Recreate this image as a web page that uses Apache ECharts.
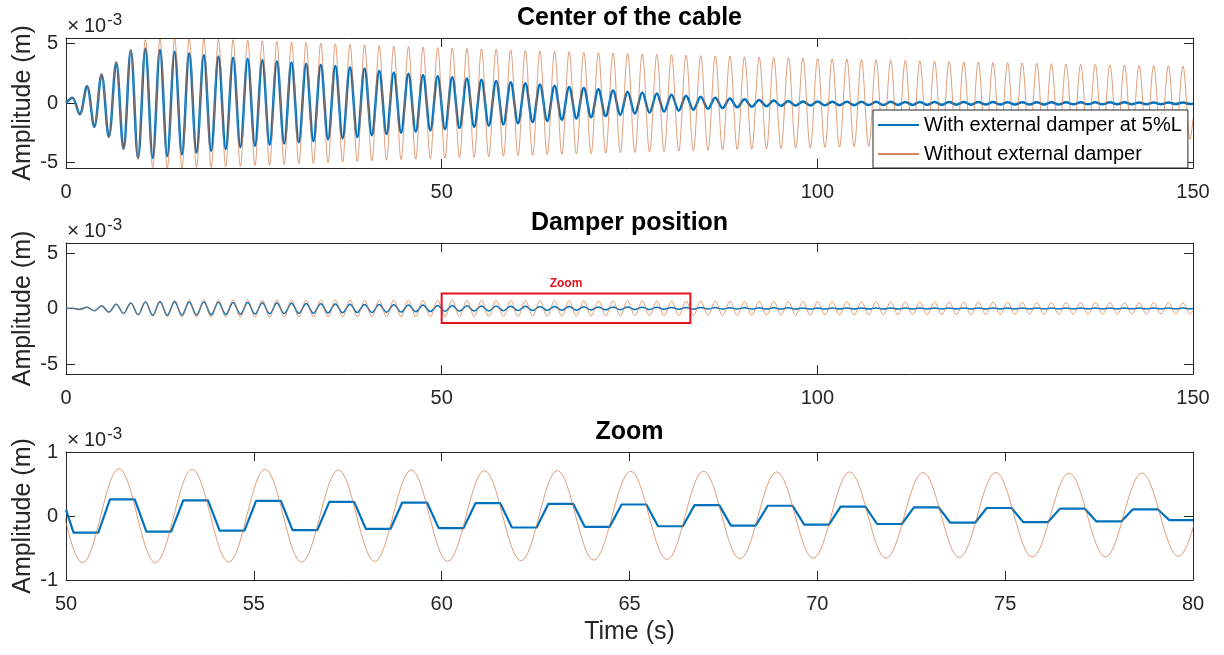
<!DOCTYPE html>
<html>
<head>
<meta charset="utf-8">
<script src="https://cdn.jsdelivr.net/npm/echarts@6/dist/echarts.min.js"></script>
<style>html,body{margin:0;padding:0;background:#fff}#c{width:1224px;height:655px}</style>
</head>
<body>
<div id="c"></div>
<script>
// ---------------- data (amplitudes in units of 1e-3 m) ----------------
// times (s) of successive extrema (trough, peak, trough, ...)
const tExt = [0, 0.84,
  1.81, 2.79, 3.76, 4.73, 5.70, 6.68, 7.65, 8.62, 9.59, 10.57,
  11.54, 12.51, 13.48, 14.46, 15.43, 16.40, 17.37, 18.35, 19.32, 20.29,
  21.26, 22.24, 23.21, 24.18, 25.15, 26.13, 27.10, 28.07, 29.04, 30.02,
  30.99, 31.96, 32.93, 33.91, 34.88, 35.85, 36.82, 37.80, 38.77, 39.74,
  40.71, 41.69, 42.66, 43.63, 44.60, 45.58, 46.55, 47.52, 48.49, 49.47,
  50.44, 51.41, 52.38, 53.36, 54.33, 55.30, 56.27, 57.25, 58.22, 59.19,
  60.16, 61.14, 62.11, 63.08, 64.05, 65.03, 66.00, 66.97, 67.94, 68.92,
  69.89, 70.86, 71.83, 72.81, 73.78, 74.75, 75.72, 76.70, 77.67, 78.64,
  79.61, 80.59, 81.56, 82.53, 83.50, 84.48, 85.45, 86.42, 87.39, 88.37,
  89.34, 90.31, 91.28, 92.26, 93.23, 94.20, 95.17, 96.15, 97.12, 98.09,
  99.06, 100.04, 101.01, 101.98, 102.95, 103.93, 104.90, 105.87, 106.84, 107.82,
  108.79, 109.76, 110.73, 111.71, 112.68, 113.65, 114.62, 115.60, 116.57, 117.54,
  118.51, 119.49, 120.46, 121.43, 122.40, 123.38, 124.35, 125.32, 126.29, 127.27,
  128.24, 129.21, 130.18, 131.16, 132.13, 133.10, 134.07, 135.05, 136.02, 136.99,
  137.96, 138.94, 139.91, 140.88, 141.85, 142.83, 143.80, 144.77, 145.74, 146.72,
  147.69, 148.66, 149.63, 150];

// Center of the cable, with external damper at 5%L
const centerWith = [0, 0.45,
  -0.95, 1.40, -2.00, 2.40, -2.85, 3.40, -3.85, 4.40, -4.60, 4.55,
  -4.60, 4.45, -4.45, 4.30, -4.30, 4.15, -4.15, 4.00, -4.00, 3.90,
  -3.85, 3.80, -3.70, 3.70, -3.60, 3.60, -3.50, 3.50, -3.40, 3.40,
  -3.30, 3.30, -3.20, 3.20, -3.05, 3.10, -2.95, 3.00, -2.85, 2.90,
  -2.70, 2.70, -2.60, 2.55, -2.50, 2.45, -2.40, 2.35, -2.30, 2.25,
  -2.20, 2.15, -2.10, 2.05, -2.00, 1.95, -1.90, 1.85, -1.80, 1.75,
  -1.70, 1.65, -1.60, 1.55, -1.50, 1.45, -1.40, 1.35, -1.30, 1.25,
  -1.20, 1.15, -1.10, 1.05, -1.00, 0.95, -0.90, 0.87, -0.82, 0.80,
  -0.72, 0.70, -0.64, 0.60, -0.56, 0.52, -0.48, 0.45, -0.42, 0.38,
  -0.36, 0.32, -0.32, 0.26, -0.28, 0.20, -0.24, 0.16, -0.22, 0.13,
  -0.20, 0.12, -0.19, 0.11, -0.18, 0.11, -0.18, 0.10, -0.17, 0.10,
  -0.17, 0.10, -0.16, 0.09, -0.16, 0.09, -0.15, 0.09, -0.15, 0.08,
  -0.14, 0.08, -0.14, 0.08, -0.13, 0.08, -0.13, 0.07, -0.13, 0.07,
  -0.12, 0.07, -0.12, 0.07, -0.12, 0.06, -0.11, 0.06, -0.11, 0.06,
  -0.11, 0.06, -0.10, 0.06, -0.10, 0.05, -0.10, 0.05, -0.10, 0.05,
  -0.09, 0.05, -0.09, -0.05];

// Center of the cable, without external damper
const centerWithout = [0, 0.45,
  -0.95, 1.40, -2.00, 2.45, -2.90, 3.45, -3.90, 4.50, -4.75, 5.30,
  -5.40, 5.40, -5.45, 5.40, -5.45, 5.40, -5.40, 5.38, -5.40, 5.35,
  -5.35, 5.30, -5.30, 5.28, -5.25, 5.22, -5.20, 5.18, -5.15, 5.12,
  -5.10, 5.08, -5.05, 5.02, -5.00, 4.97, -4.95, 4.92, -4.90, 4.87,
  -4.85, 4.82, -4.80, 4.78, -4.75, 4.73, -4.71, 4.69, -4.67, 4.65,
  -4.63, 4.61, -4.59, 4.57, -4.55, 4.53, -4.51, 4.49, -4.47, 4.45,
  -4.43, 4.41, -4.39, 4.37, -4.35, 4.33, -4.31, 4.30, -4.28, 4.26,
  -4.24, 4.22, -4.21, 4.19, -4.17, 4.15, -4.14, 4.12, -4.10, 4.08,
  -4.07, 4.05, -4.04, 4.02, -4.00, 3.98, -3.97, 3.95, -3.94, 3.92,
  -3.91, 3.89, -3.88, 3.86, -3.85, 3.83, -3.82, 3.80, -3.79, 3.77,
  -3.76, 3.74, -3.73, 3.71, -3.70, 3.68, -3.67, 3.65, -3.64, 3.62,
  -3.61, 3.59, -3.58, 3.57, -3.56, 3.54, -3.53, 3.51, -3.50, 3.48,
  -3.47, 3.45, -3.45, 3.43, -3.42, 3.40, -3.40, 3.38, -3.37, 3.35,
  -3.35, 3.33, -3.32, 3.30, -3.30, 3.28, -3.27, 3.25, -3.25, 3.23,
  -3.22, 3.20, -3.20, 3.18, -3.18, 3.16, -3.15, 3.13, -3.13, 3.11,
  -3.11, 3.09, -3.07, -1.30];

// Damper position, with external damper at 5%L
const damperWith = [0, 0.03,
  -0.08, 0.12, -0.20, 0.25, -0.32, 0.38, -0.44, 0.50, -0.55, 0.58,
  -0.60, 0.60, -0.60, 0.60, -0.59, 0.59, -0.58, 0.58, -0.56, 0.56,
  -0.54, 0.55, -0.52, 0.53, -0.50, 0.51, -0.48, 0.49, -0.46, 0.47,
  -0.44, 0.45, -0.42, 0.43, -0.40, 0.41, -0.38, 0.39, -0.36, 0.37,
  -0.35, 0.35, -0.33, 0.34, -0.32, 0.32, -0.30, 0.31, -0.28, 0.28,
  -0.26, 0.26, -0.245, 0.245, -0.23, 0.235, -0.22, 0.22, -0.20, 0.21,
  -0.19, 0.20, -0.18, 0.19, -0.17, 0.18, -0.16, 0.17, -0.15, 0.16,
  -0.135, 0.145, -0.125, 0.135, -0.105, 0.125, -0.095, 0.115, -0.085, 0.105,
  -0.065, 0.10, -0.06, 0.09, -0.06, 0.085, -0.055, 0.08, -0.055, 0.075,
  -0.05, 0.07, -0.05, 0.065, -0.05, 0.06, -0.045, 0.06, -0.045, 0.055,
  -0.045, 0.055, -0.045, 0.05, -0.04, 0.05, -0.04, 0.05, -0.04, 0.05,
  -0.04, 0.05, -0.04, 0.05, -0.04, 0.045, -0.04, 0.045, -0.035, 0.045,
  -0.035, 0.045, -0.035, 0.045, -0.035, 0.04, -0.035, 0.04, -0.035, 0.04,
  -0.03, 0.04, -0.03, 0.04, -0.03, 0.04, -0.03, 0.04, -0.03, 0.04,
  -0.03, 0.04, -0.03, 0.04, -0.03, 0.04, -0.03, 0.04, -0.03, 0.04,
  -0.03, 0.04, -0.03, -0.01];

// Damper position, without external damper
const damperWithout = [0, 0.03,
  -0.08, 0.12, -0.20, 0.25, -0.32, 0.38, -0.45, 0.50, -0.58, 0.62,
  -0.68, 0.70, -0.74, 0.75, -0.77, 0.77, -0.78, 0.78, -0.78, 0.78,
  -0.78, 0.78, -0.78, 0.78, -0.77, 0.77, -0.77, 0.77, -0.77, 0.77,
  -0.76, 0.76, -0.76, 0.76, -0.76, 0.76, -0.75, 0.75, -0.75, 0.75,
  -0.75, 0.75, -0.75, 0.75, -0.74, 0.74, -0.74, 0.74, -0.74, 0.74,
  -0.73, 0.74, -0.73, 0.73, -0.72, 0.73, -0.72, 0.72, -0.71, 0.72,
  -0.71, 0.71, -0.70, 0.71, -0.69, 0.70, -0.68, 0.70, -0.67, 0.69,
  -0.66, 0.69, -0.66, 0.68, -0.65, 0.68, -0.64, 0.67, -0.64, 0.67,
  -0.63, 0.66, -0.63, 0.66, -0.62, 0.65, -0.62, 0.65, -0.61, 0.64,
  -0.61, 0.64, -0.60, 0.63, -0.60, 0.63, -0.59, 0.62, -0.59, 0.62,
  -0.58, 0.61, -0.58, 0.61, -0.57, 0.60, -0.57, 0.60, -0.56, 0.59,
  -0.56, 0.59, -0.55, 0.58, -0.55, 0.58, -0.55, 0.58, -0.54, 0.57,
  -0.54, 0.57, -0.53, 0.56, -0.53, 0.56, -0.53, 0.56, -0.52, 0.55,
  -0.52, 0.55, -0.51, 0.54, -0.51, 0.54, -0.51, 0.54, -0.50, 0.53,
  -0.50, 0.53, -0.50, 0.53, -0.49, 0.52, -0.49, 0.52, -0.49, 0.52,
  -0.48, 0.51, -0.48, -0.20];

// Zoom (50-80 s): damper position with external damper, flat-topped response (corner points)
const zoomBlueT = [50.00,
  50.20, 50.86, 51.17, 51.83, 52.14, 52.80, 53.12, 53.78, 54.09, 54.75,
  55.06, 55.72, 56.03, 56.69, 57.01, 57.67, 57.98, 58.64, 58.95, 59.61,
  59.92, 60.58, 60.90, 61.56, 61.87, 62.53, 62.84, 63.50, 63.81, 64.47,
  64.79, 65.45, 65.76, 66.42, 66.73, 67.39, 67.70, 68.36, 68.68, 69.34,
  69.65, 70.31, 70.62, 71.28, 71.59, 72.25, 72.57, 73.23, 73.54, 74.20,
  74.51, 75.17, 75.48, 76.14, 76.46, 77.12, 77.43, 78.09, 78.40, 79.06,
  79.37, 80.00];
const zoomBlueV = [0.10,
  -0.26, -0.26, 0.26, 0.26, -0.245, -0.245, 0.245, 0.245, -0.23, -0.23,
  0.235, 0.235, -0.22, -0.22, 0.22, 0.22, -0.20, -0.20, 0.21, 0.21,
  -0.19, -0.19, 0.20, 0.20, -0.18, -0.18, 0.19, 0.19, -0.17, -0.17,
  0.18, 0.18, -0.16, -0.16, 0.17, 0.17, -0.15, -0.15, 0.16, 0.16,
  -0.135, -0.135, 0.145, 0.145, -0.125, -0.125, 0.135, 0.135, -0.105, -0.105,
  0.125, 0.125, -0.095, -0.095, 0.115, 0.115, -0.085, -0.085, 0.105, 0.105,
  -0.065, -0.065];

const panelTitles = ['Center of the cable', 'Damper position', 'Zoom'];
const seriesNames = ['With external damper at 5%L', 'Without external damper'];
const xRangeMain = [0, 150], xIntervalMain = 50;
const xRangeZoom = [50, 80], xIntervalZoom = 5;
const yRangeCenter = [-5.45, 5.45], yTicksCenter = [-5, 0, 5];
const yRangeDamper = [-5.9, 5.9], yTicksDamper = [-5, 0, 5];
const yRangeZoom = [-1, 1], yTicksZoom = [-1, 0, 1];
const zoomBoxX = [50, 83.1], zoomBoxY = [-1.3, 1.35];
const scaleLabel = ['×', '10', '-3'];
const yName = 'Amplitude (m)', xName = 'Time (s)';

// ---------------- chart ----------------
const FONT = "'Liberation Sans', Arial, Helvetica, sans-serif";
const AX = '#262626';
const BLUE = '#0072BD', ORANGE = '#D0703F', RED = '#E3121B';
const pairs = (t, v) => t.map((x, i) => [x, v[i]]);

const grids = [
  {left: 66, right: 31, top: 38, height: 130},
  {left: 66, right: 31, top: 243, height: 131},
  {left: 66, right: 31, top: 452, height: 128}
];

const tick = {inside: true, length: 9, lineStyle: {color: AX, width: 1}};
const line = {show: true, onZero: false, lineStyle: {color: AX, width: 1}};

function xAxes(gi, range, interval, withName) {
  const base = {type: 'value', gridIndex: gi, min: range[0], max: range[1], interval: interval,
    splitLine: {show: false}, axisLine: line, axisTick: tick};
  const bottom = Object.assign({}, base, {position: 'bottom',
    axisLabel: {show: true, margin: 14, fontSize: 20, color: AX, fontFamily: FONT, showMinLabel: true, showMaxLabel: true}});
  if (withName) {
    Object.assign(bottom, {name: xName, nameLocation: 'middle', nameGap: 40, nameMoveOverlap: false,
      nameTextStyle: {fontSize: 25, color: AX, fontFamily: FONT}});
  }
  const top = Object.assign({}, base, {position: 'top', axisLabel: {show: false}});
  return [bottom, top];
}
function yAxes(gi, range, ticks) {
  const base = {type: 'value', gridIndex: gi, min: range[0], max: range[1],
    splitLine: {show: false}, axisLine: line,
    axisTick: Object.assign({}, tick, {customValues: ticks})};
  const left = Object.assign({}, base, {position: 'left',
    name: yName, nameLocation: 'middle', nameGap: 30, nameMoveOverlap: false,
    nameTextStyle: {fontSize: 25, color: AX, fontFamily: FONT},
    axisLabel: {show: true, margin: 8, fontSize: 20, color: AX, fontFamily: FONT, customValues: ticks}});
  const right = Object.assign({}, base, {position: 'right', axisLabel: {show: false}});
  return [left, right];
}

const xAxis = [].concat(
  xAxes(0, xRangeMain, xIntervalMain, false),
  xAxes(1, xRangeMain, xIntervalMain, false),
  xAxes(2, xRangeZoom, xIntervalZoom, true));
const yAxis = [].concat(
  yAxes(0, yRangeCenter, yTicksCenter),
  yAxes(1, yRangeDamper, yTicksDamper),
  yAxes(2, yRangeZoom, yTicksZoom));

function lineSeries(name, data, gi, color, width, smooth, opacity, extra) {
  return Object.assign({
    type: 'line', name: name, data: data, xAxisIndex: gi * 2, yAxisIndex: gi * 2,
    symbol: 'none', showSymbol: false, smooth: smooth, clip: true, silent: true,
    lineStyle: {color: color, width: width, opacity: opacity}, itemStyle: {color: color}
  }, extra || {});
}

const series = [
  lineSeries(seriesNames[0], pairs(tExt, centerWith), 0, BLUE, 2.5, 0.36, 1),
  lineSeries(seriesNames[1], pairs(tExt, centerWithout), 0, ORANGE, 0.8, 0.36, 0.85),
  lineSeries(seriesNames[0], pairs(tExt, damperWith), 1, BLUE, 1.5, 0.36, 1),
  lineSeries(seriesNames[1], pairs(tExt, damperWithout), 1, ORANGE, 0.8, 0.36, 0.85, {
    markArea: {
      silent: true, z: 10,
      itemStyle: {color: 'rgba(0,0,0,0)', borderColor: RED, borderWidth: 2},
      label: {show: true, position: 'top', distance: 3, color: RED, fontWeight: 'bold', fontSize: 12, fontFamily: FONT},
      data: [[{name: 'Zoom', coord: [zoomBoxX[0], zoomBoxY[1]]}, {coord: [zoomBoxX[1], zoomBoxY[0]]}]]
    }
  }),
  lineSeries(seriesNames[0], pairs(zoomBlueT, zoomBlueV), 2, BLUE, 2.2, false, 1),
  lineSeries(seriesNames[1], pairs(tExt, damperWithout), 2, ORANGE, 0.8, 0.36, 0.85)
];

function txt(x, y, text, font, fill, align) {
  return {type: 'text', x: x, y: y, silent: true,
    style: {text: text, font: font, fill: fill, align: align, verticalAlign: 'middle',
      textAlign: align, textVerticalAlign: 'middle'}};
}
const graphic = [];
grids.forEach((g, i) => {
  graphic.push(txt(629.5, g.top - 19.5, panelTitles[i], 'bold 25px ' + FONT, '#000', 'center'));
  graphic.push(txt(67, g.top - 12, scaleLabel[0], '21px ' + FONT, AX, 'left'));
  graphic.push(txt(84, g.top - 12, scaleLabel[1], '20px ' + FONT, AX, 'left'));
  graphic.push(txt(107, g.top - 18, scaleLabel[2], '17px ' + FONT, AX, 'left'));
});

const chart = echarts.init(document.getElementById('c'), null, {renderer: 'canvas'});
chart.setOption({
  animation: false,
  backgroundColor: '#fff',
  textStyle: {fontFamily: FONT},
  grid: grids.map(g => Object.assign({containLabel: false, outerBoundsMode: 'none'}, g)),
  xAxis: xAxis,
  yAxis: yAxis,
  legend: {
    show: true, orient: 'vertical', left: 873, top: 110,
    padding: [4, 6, 3, 4], itemWidth: 41, itemHeight: 14, itemGap: 7,
    backgroundColor: '#fff', borderColor: AX, borderWidth: 1, borderRadius: 0,
    itemStyle: {opacity: 0, borderWidth: 0},
    textStyle: {fontSize: 20, lineHeight: 22, color: '#000', fontFamily: FONT},
    selectedMode: false,
    data: seriesNames
  },
  graphic: graphic,
  series: series
});
</script>
</body>
</html>
